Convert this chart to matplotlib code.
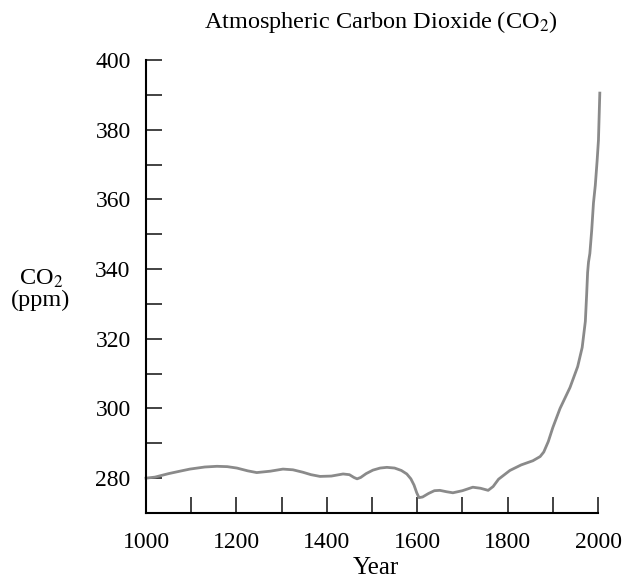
import matplotlib.pyplot as plt
import numpy as np

plt.rcParams['font.family'] = ['Liberation Serif', 'DejaVu Serif']
plt.rcParams['mathtext.fontset'] = 'stix'

# CO2 record (year, ppm)
years = [1000, 1020, 1050, 1075, 1097, 1130, 1157, 1180, 1201, 1225, 1245,
         1275, 1303, 1325, 1347, 1365, 1385, 1410, 1436, 1450, 1460, 1467,
         1475, 1487, 1502, 1518, 1533, 1550, 1565, 1577, 1586, 1593, 1599,
         1604, 1612, 1625, 1638, 1650, 1665, 1679, 1700, 1723, 1740, 1757,
         1768, 1780, 1805, 1830, 1856, 1872, 1880, 1890, 1900, 1916, 1938,
         1955, 1965, 1972, 1975, 1977, 1979, 1982, 1986, 1990, 1994, 1998,
         2001, 2004]
co2 = [280.0, 280.3, 281.3, 282.0, 282.6, 283.2, 283.4, 283.3, 282.9, 282.1,
       281.6, 282.0, 282.6, 282.4, 281.7, 281.0, 280.5, 280.6, 281.2, 281.0,
       280.2, 279.8, 280.2, 281.3, 282.3, 282.9, 283.1, 282.9, 282.2, 281.2,
       279.8, 278.0, 275.8, 274.4, 274.6, 275.6, 276.4, 276.5, 276.1, 275.8,
       276.4, 277.4, 277.1, 276.5, 277.6, 279.7, 282.2, 283.8, 285.0, 286.2,
       287.5, 290.5, 294.5, 300.0, 306.0, 312.0, 317.5, 325.0, 333.0, 339.0,
       342.0, 344.5, 351.0, 359.0, 364.0, 371.0, 377.0, 390.5]

xticks = [1000, 1200, 1400, 1600, 1800, 2000]
yticks = [280, 300, 320, 340, 360, 380, 400]

fig = plt.figure(figsize=(6.26, 5.8), dpi=100)
ax = fig.add_axes([146 / 626, 1 - 513 / 580, (598 - 146) / 626, (513 - 60) / 580])

ax.plot(years, co2, color='#8a8a8a', linewidth=2.0, clip_on=False,
        solid_joinstyle='round')

ax.set_xlim(1000, 2000)
ax.set_ylim(270, 400)
ax.set_xticks(xticks)
ax.set_xticks(np.arange(1000, 2001, 100), minor=True)
ax.set_yticks(yticks)
ax.set_yticks(np.arange(280, 401, 10), minor=True)

ax.spines['top'].set_visible(False)
ax.spines['right'].set_visible(False)
for s in ('left', 'bottom'):
    ax.spines[s].set_linewidth(1.5)

ax.tick_params(which='both', direction='in', length=11.5, width=1.2, color='#222222')
ax.tick_params(axis='y', which='major', pad=11, labelsize=17)
ax.tick_params(axis='x', which='major', pad=14, labelsize=17)
ax.tick_params(which='minor', labelleft=False, labelbottom=False)

fig.text(381 / 626, 1 - 22 / 580, 'Atmospheric Carbon Dioxide (CO$_2$)',
         ha='center', va='center', fontsize=17.5)
fig.text(376 / 626, 1 - 568 / 580, 'Year', ha='center', va='center', fontsize=18)
fig.text(41 / 626, 1 - 289 / 580, 'CO$_2$\n(ppm)', ha='center', va='center',
         fontsize=17.5, linespacing=1.0)

fig.savefig('out.png', dpi=100, facecolor='white')
